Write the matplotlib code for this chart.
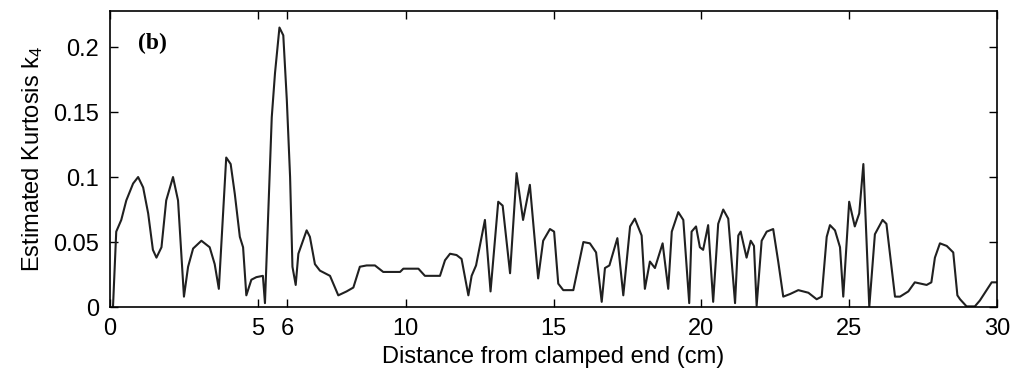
import numpy as np
import matplotlib.pyplot as plt

# distance along the beam (cm) and estimated kurtosis
dist = [0.10, 0.21, 0.38, 0.55, 0.78, 0.95, 1.12, 1.29, 1.45, 1.57, 1.74, 1.90, 2.13, 2.30,
        2.50, 2.64, 2.81, 3.09, 3.37, 3.54, 3.68, 3.93, 4.08, 4.22, 4.39, 4.50, 4.61, 4.78,
        4.95, 5.17, 5.24, 5.47, 5.58, 5.73, 5.86, 5.98, 6.09, 6.17, 6.28, 6.37, 6.65, 6.76,
        6.93, 7.10, 7.44, 7.72, 8.00, 8.23, 8.45, 8.68, 8.96, 9.24, 9.81, 9.92, 10.43, 10.65,
        11.16, 11.33, 11.50, 11.72, 11.89, 12.12, 12.23, 12.38, 12.68, 12.87, 13.13, 13.28,
        13.53, 13.75, 13.97, 14.20, 14.48, 14.65, 14.88, 15.02, 15.16, 15.33, 15.67, 16.01,
        16.23, 16.44, 16.63, 16.74, 16.89, 17.16, 17.36, 17.59, 17.75, 17.98, 18.09, 18.26,
        18.43, 18.69, 18.88, 19.00, 19.22, 19.39, 19.59, 19.67, 19.82, 19.95, 20.06, 20.23,
        20.40, 20.57, 20.74, 20.91, 21.14, 21.25, 21.33, 21.53, 21.67, 21.78, 21.87, 22.04,
        22.21, 22.43, 22.60, 22.77, 23.00, 23.28, 23.62, 23.90, 24.07, 24.24, 24.35, 24.52,
        24.69, 24.80, 25.00, 25.19, 25.34, 25.48, 25.68, 25.87, 26.13, 26.26, 26.55, 26.72,
        27.00, 27.22, 27.62, 27.78, 27.90, 28.07, 28.30, 28.52, 28.66, 28.75, 28.97, 29.25,
        29.42, 29.65, 29.82, 29.99]
kurt = [0.000, 0.058, 0.067, 0.082, 0.095, 0.100, 0.092, 0.072, 0.044, 0.038, 0.046, 0.082,
        0.100, 0.082, 0.008, 0.031, 0.045, 0.051, 0.046, 0.033, 0.014, 0.115, 0.110, 0.087,
        0.054, 0.046, 0.009, 0.021, 0.023, 0.024, 0.003, 0.146, 0.180, 0.215, 0.209, 0.159,
        0.100, 0.031, 0.017, 0.041, 0.059, 0.054, 0.033, 0.028, 0.024, 0.009, 0.012, 0.015,
        0.031, 0.032, 0.032, 0.027, 0.027, 0.0295, 0.0295, 0.024, 0.024, 0.036, 0.041, 0.040,
        0.037, 0.009, 0.024, 0.032, 0.067, 0.012, 0.081, 0.078, 0.026, 0.103, 0.067, 0.094,
        0.022, 0.051, 0.060, 0.058, 0.018, 0.013, 0.013, 0.050, 0.049, 0.042, 0.004, 0.030,
        0.032, 0.053, 0.009, 0.062, 0.068, 0.055, 0.014, 0.035, 0.030, 0.049, 0.014, 0.058,
        0.073, 0.067, 0.003, 0.058, 0.062, 0.046, 0.044, 0.063, 0.004, 0.064, 0.075, 0.068,
        0.003, 0.055, 0.058, 0.038, 0.051, 0.047, 0.001, 0.051, 0.058, 0.060, 0.035, 0.008,
        0.010, 0.013, 0.011, 0.006, 0.008, 0.054, 0.063, 0.059, 0.046, 0.008, 0.081, 0.062,
        0.072, 0.110, 0.000, 0.056, 0.067, 0.064, 0.008, 0.008, 0.012, 0.019, 0.017, 0.019,
        0.038, 0.049, 0.047, 0.042, 0.009, 0.006, 0.0005, 0.0005, 0.005, 0.013, 0.019, 0.019]

xticks = [0, 5, 6, 10, 15, 20, 25, 30]
yticks = [0, 0.05, 0.1, 0.15, 0.2]
ytick_labels = ['0', '0.05', '0.1', '0.15', '0.2']

plt.rcParams['font.family'] = ['Liberation Sans', 'DejaVu Sans']
plt.rcParams['mathtext.default'] = 'regular'

fig = plt.figure(figsize=(10.16, 3.8), dpi=100)
ax = fig.add_axes([0.1083, 0.192, 0.873, 0.779])

ax.plot(dist, kurt, color='#202020', linewidth=1.5, solid_joinstyle='round')

ax.set_xlim(0, 30)
ax.set_ylim(0, 0.2277)
ax.set_xticks(xticks)
ax.set_xticklabels([str(t) for t in xticks])
ax.set_yticks(yticks)
ax.set_yticklabels(ytick_labels)
ax.tick_params(direction='in', top=True, right=True, length=6, width=1,
               labelsize=17, pad=8)
for s in ax.spines.values():
    s.set_linewidth(1.2)

ax.set_xlabel('Distance from clamped end (cm)', fontsize=17, labelpad=4)
ax.set_ylabel('Estimated Kurtosis k$_4$', fontsize=17, labelpad=6)

ax.text(1.45, 0.203, '(b)', fontsize=17, fontweight='bold',
        family='Liberation Serif', ha='center', va='center')

fig.savefig('out.png', dpi=100)
